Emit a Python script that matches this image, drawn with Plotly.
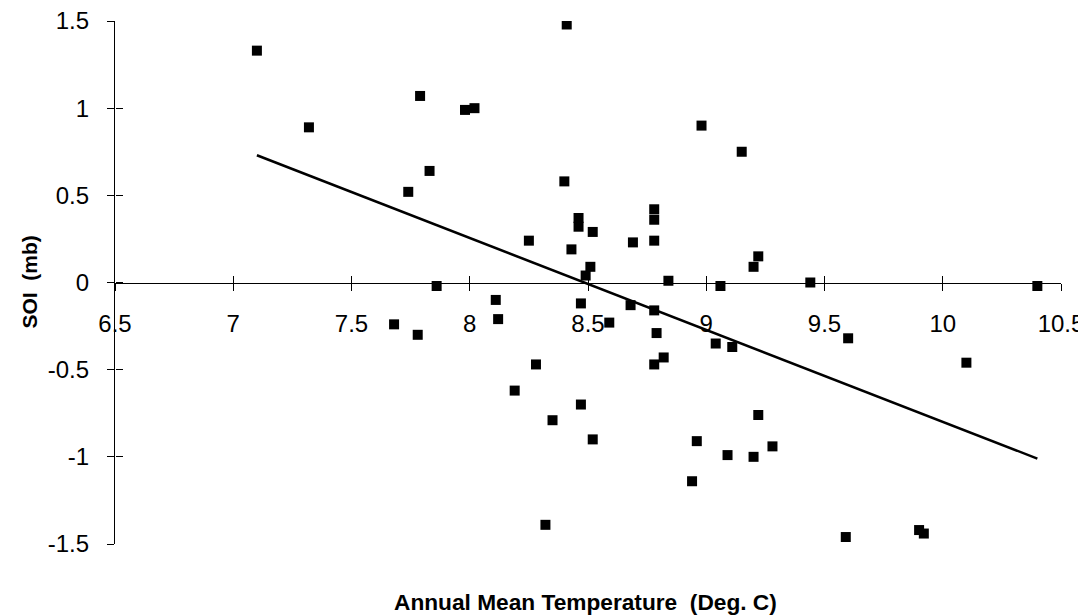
import plotly.graph_objects as go

# Data
temperature = [7.10, 7.32, 7.79, 7.74, 7.83, 7.98, 8.02, 8.41, 8.40, 8.25,
               8.46, 8.46, 8.52, 8.43, 8.51, 8.49, 8.69, 8.78, 8.78, 8.78,
               8.84, 8.98, 9.15, 7.86, 9.06, 8.11, 8.12, 8.47, 8.59, 8.68,
               8.78, 8.79, 8.82, 8.78, 9.04, 9.11, 8.28, 8.19, 8.47, 8.35,
               8.52, 8.96, 9.09, 8.94, 8.32, 7.68, 7.78, 9.22, 9.20, 9.44,
               10.40, 9.60, 10.10, 9.22, 9.28, 9.20, 9.59, 9.90, 9.92]
soi = [1.33, 0.89, 1.07, 0.52, 0.64, 0.99, 1.00, 1.48, 0.58, 0.24,
       0.37, 0.32, 0.29, 0.19, 0.09, 0.04, 0.23, 0.24, 0.42, 0.36,
       0.01, 0.90, 0.75, -0.02, -0.02, -0.10, -0.21, -0.12, -0.23, -0.13,
       -0.16, -0.29, -0.43, -0.47, -0.35, -0.37, -0.47, -0.62, -0.70, -0.79,
       -0.90, -0.91, -0.99, -1.14, -1.39, -0.24, -0.30, 0.15, 0.09, 0.00,
       -0.02, -0.32, -0.46, -0.76, -0.94, -1.00, -1.46, -1.42, -1.44]

trend_x = [7.10, 10.40]
trend_y = [0.73, -1.01]

x_ticks = [6.5, 7, 7.5, 8, 8.5, 9, 9.5, 10, 10.5]
x_tick_labels = ["6.5", "7", "7.5", "8", "8.5", "9", "9.5", "10", "10.5"]
y_ticks = [-1.5, -1, -0.5, 0, 0.5, 1, 1.5]
y_tick_labels = ["-1.5", "-1", "-0.5", "0", "0.5", "1", "1.5"]

x_range = [6.5, 10.5]
y_range = [-1.5, 1.5]

FONT = "Liberation Sans, Arial, sans-serif"

fig = go.Figure()
fig.add_trace(go.Scatter(
    x=temperature, y=soi, mode="markers",
    marker=dict(symbol="square", size=10, color="black"),
    showlegend=False, hoverinfo="x+y"))
fig.add_trace(go.Scatter(
    x=trend_x, y=trend_y, mode="lines",
    line=dict(color="black", width=2.5),
    showlegend=False, hoverinfo="skip"))
# invisible trace on overlay axes (used for the inner half of crossing ticks)
fig.add_trace(go.Scatter(
    x=[x_range[0]], y=[y_range[0]], xaxis="x2", yaxis="y2", mode="markers",
    marker=dict(opacity=0), showlegend=False, hoverinfo="skip"))

axis_common = dict(showgrid=False, zeroline=False, tickcolor="black",
                   linecolor="black", linewidth=1.3, tickwidth=1.2,
                   automargin=False)

fig.update_layout(
    width=1086, height=616,
    margin=dict(l=107, r=33, t=13, b=80, autoexpand=False),
    paper_bgcolor="white", plot_bgcolor="white",
    font=dict(family=FONT, color="black", size=24),
    xaxis=dict(range=x_range, anchor="free", position=0.5,
               tickvals=x_ticks, ticktext=x_tick_labels,
               ticks="outside", ticklen=7, showline=True,
               ticklabelstandoff=13, ticklabeloverflow="allow",
               tickfont=dict(size=24, family=FONT), **axis_common),
    yaxis=dict(range=y_range, tickvals=y_ticks, ticktext=y_tick_labels,
               ticks="outside", ticklen=7, showline=True,
               ticklabelstandoff=13, ticklabeloverflow="allow",
               tickfont=dict(size=24, family=FONT), **axis_common),
    xaxis2=dict(range=x_range, overlaying="x", anchor="free", position=0.5,
                tickvals=x_ticks, ticks="inside", ticklen=7,
                showticklabels=False, showline=False, **axis_common),
    yaxis2=dict(range=y_range, overlaying="y", anchor="free", position=0,
                side="left", tickvals=y_ticks, ticks="inside", ticklen=7,
                showticklabels=False, showline=False, **axis_common),
    annotations=[
        dict(text="<b>Annual Mean Temperature&nbsp; (Deg. C)</b>",
             xref="paper", yref="paper", x=0.497, y=0, yshift=-58,
             xanchor="center", yanchor="middle", showarrow=False,
             font=dict(size=22.7, family=FONT)),
        dict(text="<b>SOI&nbsp; (mb)</b>", textangle=-90,
             xref="paper", yref="paper", x=0, y=0.5, xshift=-86,
             xanchor="center", yanchor="middle", showarrow=False,
             font=dict(size=21, family=FONT)),
    ],
)

fig.write_html("out.html")
